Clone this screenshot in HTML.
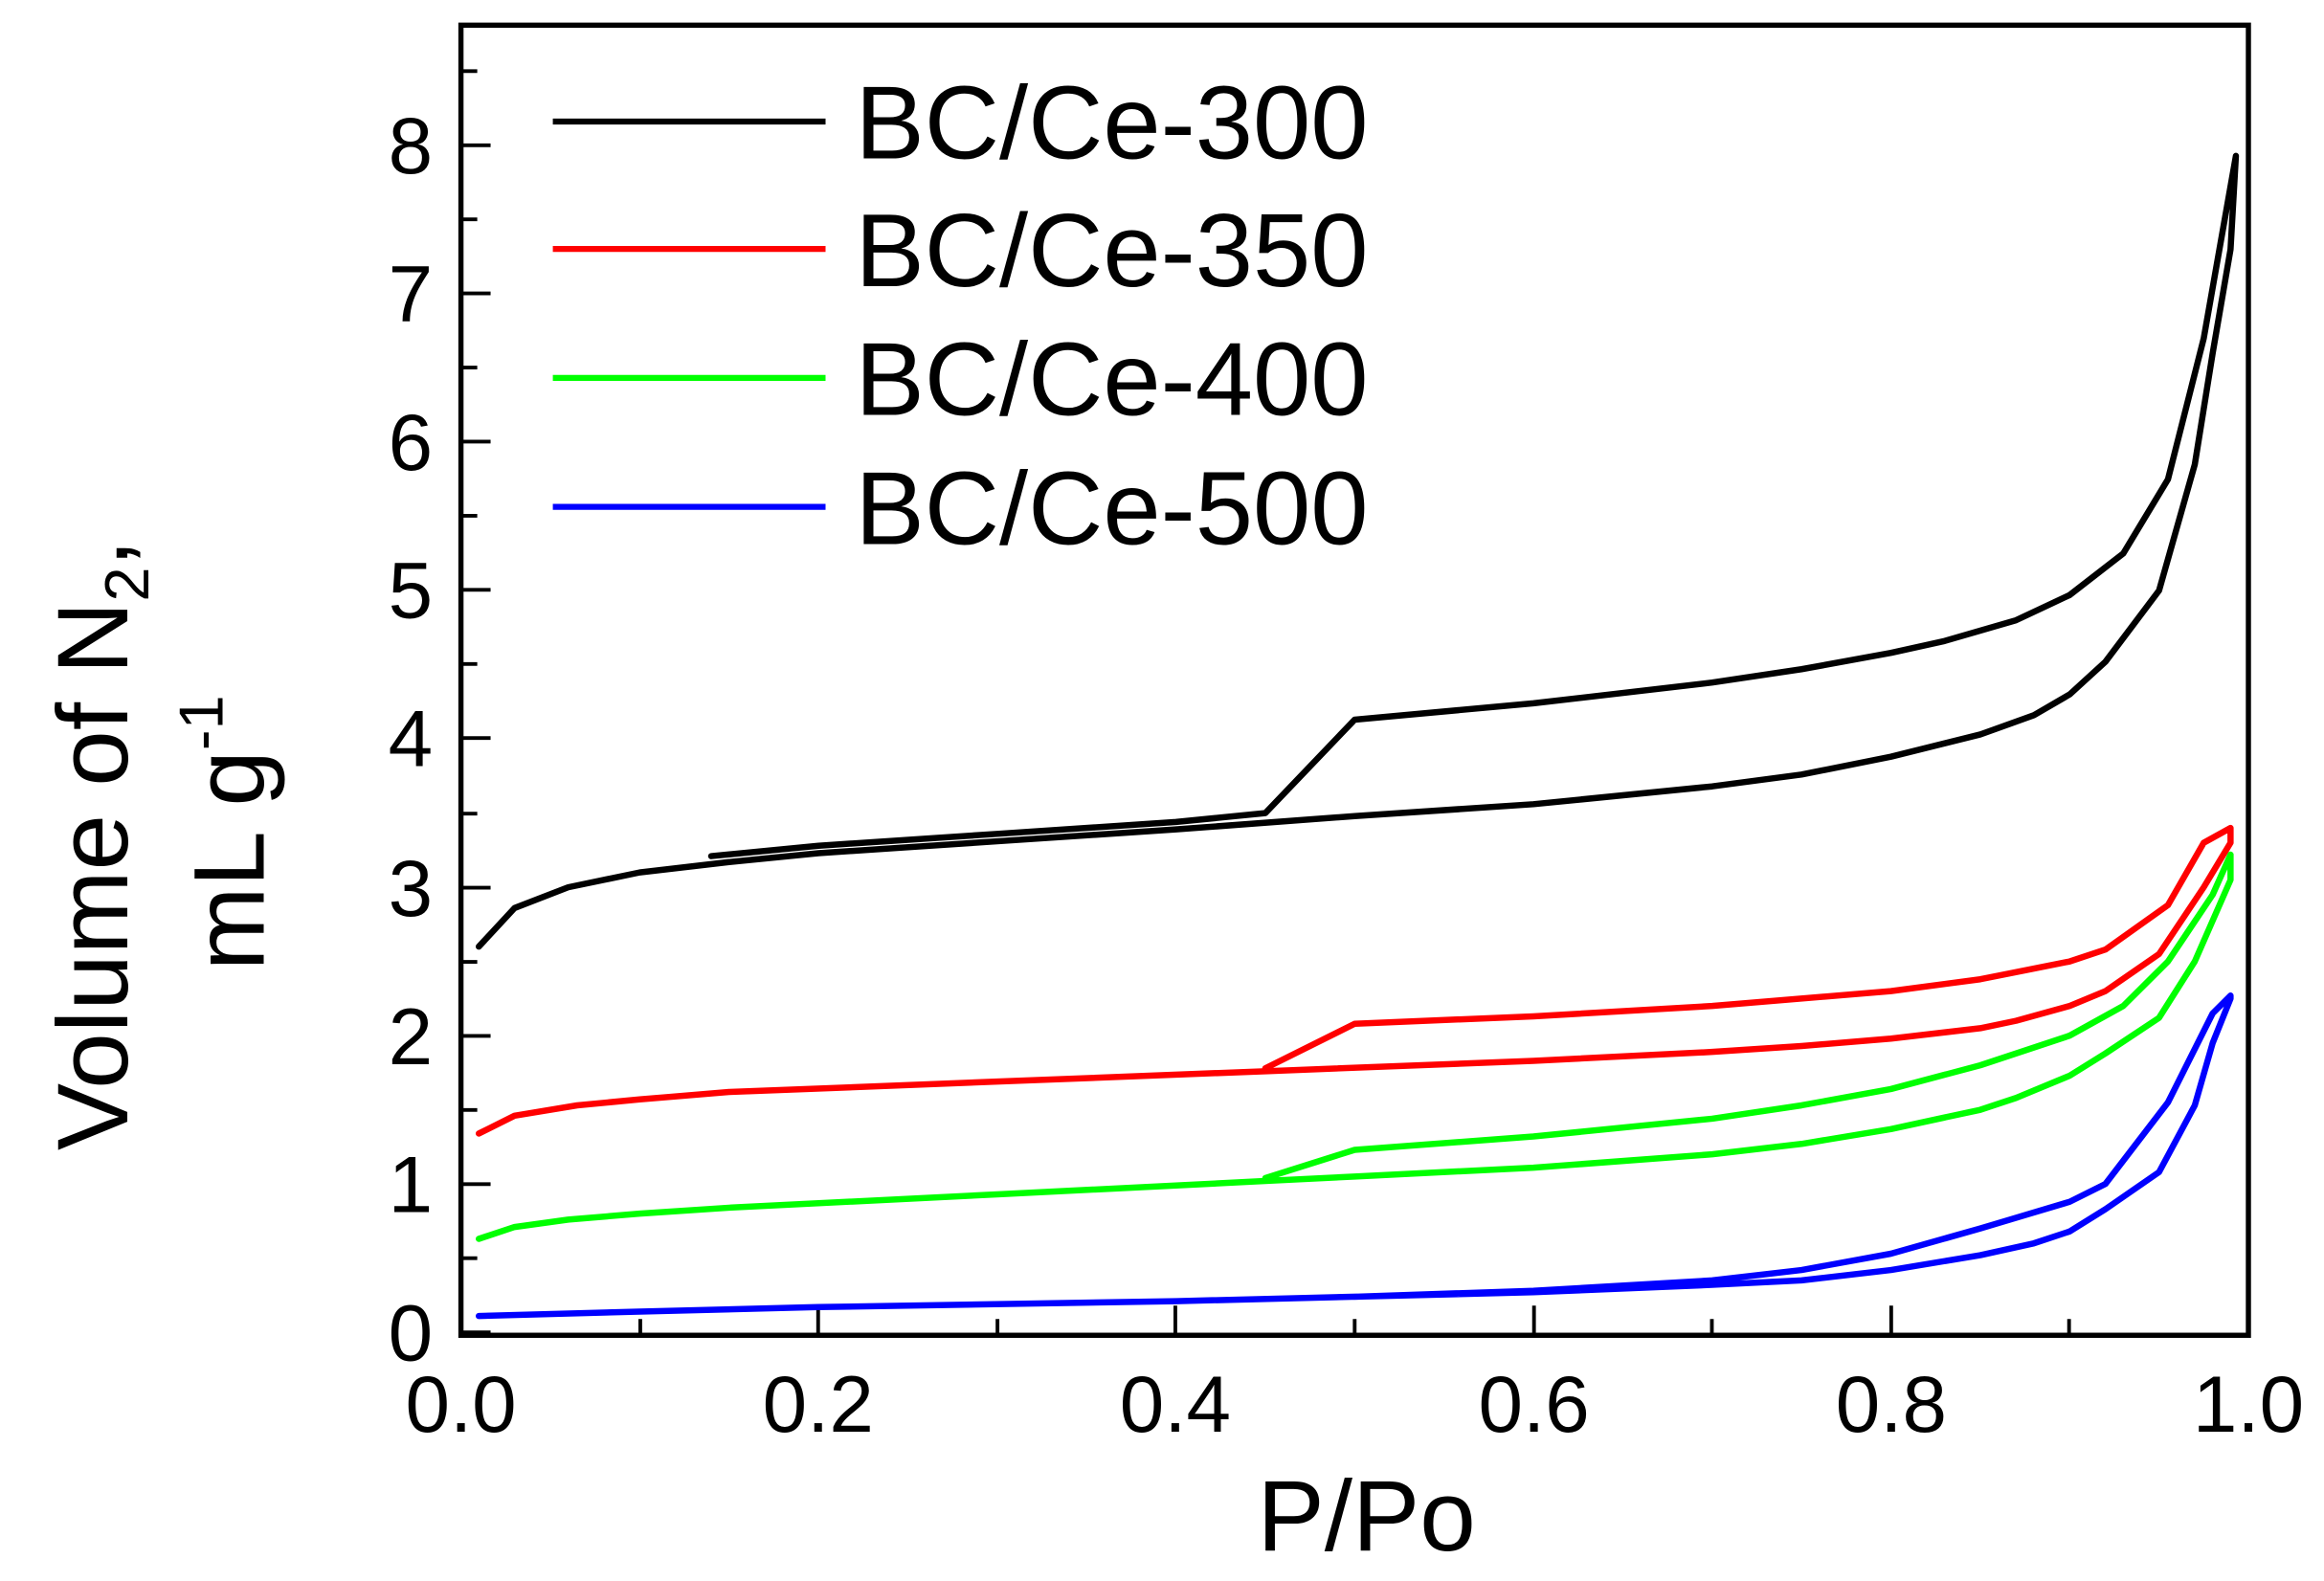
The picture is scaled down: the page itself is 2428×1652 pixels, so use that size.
<!DOCTYPE html>
<html><head><style>html,body{margin:0;padding:0;background:#fff}svg{display:block}</style></head>
<body>
<svg width="2428" height="1652" viewBox="0 0 1568 1066.8" preserveAspectRatio="none" xmlns="http://www.w3.org/2000/svg" font-family="Liberation Sans, Arial, sans-serif">
<rect width="1568" height="1066.8" fill="#fff"/>
<g stroke="#000" stroke-width="2.5">
<path d="M311 901v-20M552 901v-20M793 901v-20M1035 901v-20M1276 901v-20M432 901v-11M673 901v-11M914 901v-11M1155 901v-11M1396 901v-11"/>
<path d="M311 899h20M311 799h20M311 699h20M311 599h20M311 498h20M311 398h20M311 298h20M311 198h20M311 98h20M311 849h11M311 749h11M311 649h11M311 549h11M311 448h11M311 348h11M311 248h11M311 148h11M311 48h11"/>
</g>
<rect x="311" y="17" width="1206" height="884" fill="none" stroke="#000" stroke-width="3.5"/>
<g transform="translate(311,899) scale(1206,-100.1)" fill="none" stroke-width="6.5" stroke-linejoin="round" stroke-linecap="round">
<polyline vector-effect="non-scaling-stroke" stroke="#000" points="0.01,2.6 0.03,2.86 0.06,3.0 0.1,3.1 0.15,3.17 0.2,3.23 0.3,3.31 0.4,3.39 0.5,3.48 0.6,3.56 0.7,3.68 0.75,3.76 0.8,3.88 0.85,4.03 0.88,4.16 0.9,4.3 0.92,4.52 0.95,5.0 0.97,5.85 0.98,6.6 0.99,7.3 0.993,7.93 0.975,6.7 0.955,5.75 0.93,5.25 0.9,4.97 0.87,4.8 0.83,4.66 0.8,4.58 0.75,4.47 0.7,4.38 0.6,4.24 0.5,4.13 0.45,3.5 0.4,3.44 0.3,3.36 0.2,3.28 0.14,3.21"/>
<polyline vector-effect="non-scaling-stroke" stroke="#f00" points="0.01,1.34 0.03,1.46 0.065,1.53 0.1,1.57 0.15,1.62 0.3,1.69 0.45,1.76 0.6,1.83 0.7,1.89 0.75,1.93 0.8,1.98 0.85,2.05 0.87,2.1 0.9,2.2 0.92,2.3 0.95,2.55 0.975,3.0 0.99,3.3 0.99,3.4 0.975,3.3 0.955,2.88 0.92,2.58 0.9,2.5 0.85,2.38 0.8,2.3 0.7,2.2 0.6,2.13 0.5,2.08 0.45,1.78"/>
<polyline vector-effect="non-scaling-stroke" stroke="#0f0" points="0.01,0.63 0.03,0.71 0.06,0.76 0.1,0.8 0.15,0.84 0.3,0.93 0.45,1.02 0.5,1.05 0.6,1.11 0.7,1.2 0.75,1.27 0.8,1.37 0.85,1.5 0.87,1.58 0.9,1.73 0.92,1.88 0.95,2.12 0.97,2.5 0.99,3.05 0.99,3.22 0.98,2.95 0.955,2.5 0.93,2.2 0.9,2.0 0.85,1.8 0.8,1.64 0.75,1.53 0.7,1.44 0.6,1.32 0.5,1.23 0.45,1.04"/>
<polyline vector-effect="non-scaling-stroke" stroke="#00f" points="0.01,0.11 0.1,0.14 0.2,0.17 0.4,0.21 0.6,0.27 0.7,0.32 0.75,0.35 0.8,0.42 0.85,0.52 0.88,0.6 0.9,0.68 0.92,0.83 0.95,1.08 0.97,1.53 0.98,1.95 0.99,2.25 0.99,2.27 0.98,2.15 0.955,1.55 0.92,1.0 0.9,0.88 0.85,0.7 0.8,0.53 0.75,0.42 0.7,0.35 0.6,0.28 0.5,0.24"/>
</g>
<g stroke-width="4">
<line x1="373" y1="82" x2="557" y2="82" stroke="#000"/>
<line x1="373" y1="168" x2="557" y2="168" stroke="#f00"/>
<line x1="373" y1="255" x2="557" y2="255" stroke="#0f0"/>
<line x1="373" y1="342" x2="557" y2="342" stroke="#00f"/>
</g>
<g font-size="70" fill="#000">
<text x="577" y="107">BC/Ce-300</text>
<text x="577" y="193">BC/Ce-350</text>
<text x="577" y="280">BC/Ce-400</text>
<text x="577" y="367">BC/Ce-500</text>
</g>
<g font-size="54" text-anchor="end" fill="#000">
<text x="292" y="918">0</text><text x="292" y="818">1</text><text x="292" y="718">2</text><text x="292" y="618">3</text><text x="292" y="517">4</text><text x="292" y="417">5</text><text x="292" y="317">6</text><text x="292" y="217">7</text><text x="292" y="117">8</text>
</g>
<g font-size="54" text-anchor="middle" fill="#000">
<text x="311" y="966">0.0</text><text x="552" y="966">0.2</text><text x="793" y="966">0.4</text><text x="1035" y="966">0.6</text><text x="1276" y="966">0.8</text><text x="1517" y="966">1.0</text>
</g>
<text x="922" y="1046" font-size="68" text-anchor="middle">P/Po</text>
<text transform="translate(86,570) rotate(-90)" font-size="68" text-anchor="middle">Volume of N<tspan font-size="42" dy="14">2</tspan><tspan dy="-14">,</tspan></text>
<text transform="translate(178,562) rotate(-90)" font-size="68" text-anchor="middle">mL g<tspan font-size="42" dy="-28">-1</tspan></text>
</svg>
</body></html>
